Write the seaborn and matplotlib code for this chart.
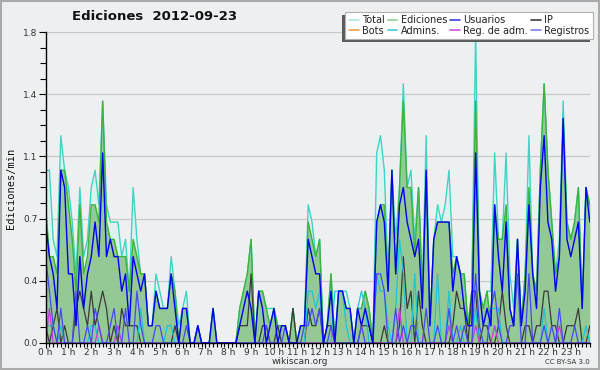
import numpy as np
import pandas as pd
import matplotlib
matplotlib.use("Agg")
import matplotlib.pyplot as plt
from matplotlib.patches import Rectangle
import seaborn as sns

# ---- data: edits per minute, 10-minute bins (6 per hour) ----
hours = [f"{h} h" for h in range(24)]

total = [1.0,1.0,0.6,0.5,1.2,1.0, 0.9,0.7,0.4,0.9,0.5,0.6, 0.9,1.0,0.8,1.4,0.8,0.7,
         0.7,0.7,0.5,0.6,0.3,0.9, 0.6,0.4,0.4,0.1,0.1,0.4, 0.3,0.2,0.2,0.5,0.3,0.1,
         0.2,0.3,0.0,0.0,0.1,0.0, 0.0,0.0,0.2,0.0,0.0,0.0, 0.0,0.0,0.0,0.2,0.3,0.4,
         0.6,0.0,0.3,0.3,0.2,0.2, 0.2,0.1,0.1,0.1,0.0,0.2, 0.0,0.1,0.1,0.8,0.7,0.5,
         0.6,0.0,0.1,0.4,0.0,0.3, 0.3,0.3,0.2,0.0,0.2,0.2, 0.3,0.2,0.0,1.1,1.2,1.0,
         0.4,1.0,0.6,0.9,1.5,0.9, 1.0,0.6,0.9,0.3,1.2,0.1, 0.6,0.8,0.7,0.8,1.0,0.5,
         0.5,0.4,0.4,0.1,0.3,1.8, 0.3,0.2,0.3,0.3,1.1,0.6, 0.6,1.1,0.4,0.2,0.6,0.1,
         0.4,1.2,0.4,0.3,1.0,1.5, 1.0,0.7,0.4,0.6,1.4,0.7, 0.6,0.7,0.9,0.2,0.9,0.8]

ediciones = [0.8,0.5,0.5,0.4,1.0,1.0, 0.8,0.6,0.3,0.8,0.4,0.5, 0.8,0.8,0.7,1.4,0.7,0.6,
             0.6,0.5,0.5,0.5,0.3,0.6, 0.5,0.4,0.4,0.1,0.1,0.3, 0.2,0.2,0.2,0.4,0.3,0.0,
             0.2,0.2,0.0,0.0,0.1,0.0, 0.0,0.0,0.2,0.0,0.0,0.0, 0.0,0.0,0.0,0.2,0.3,0.4,
             0.6,0.0,0.3,0.3,0.2,0.1, 0.2,0.1,0.1,0.1,0.0,0.2, 0.0,0.1,0.1,0.7,0.6,0.5,
             0.6,0.0,0.1,0.4,0.0,0.3, 0.3,0.2,0.2,0.0,0.2,0.2, 0.3,0.2,0.0,0.7,0.8,0.8,
             0.3,1.0,0.4,0.9,1.4,0.9, 0.9,0.5,0.9,0.3,1.0,0.1, 0.6,0.7,0.7,0.7,0.7,0.4,
             0.5,0.4,0.4,0.1,0.3,1.4, 0.3,0.2,0.3,0.1,0.8,0.6, 0.6,0.8,0.2,0.1,0.6,0.1,
             0.4,0.9,0.4,0.3,1.0,1.5, 1.0,0.7,0.4,0.5,1.3,0.7, 0.6,0.7,0.9,0.2,0.9,0.8]

usuarios = [0.7,0.5,0.4,0.2,1.0,0.9, 0.4,0.4,0.1,0.5,0.2,0.4, 0.5,0.7,0.5,1.1,0.5,0.6,
            0.5,0.5,0.3,0.4,0.1,0.5, 0.4,0.3,0.4,0.1,0.1,0.3, 0.2,0.2,0.2,0.4,0.2,0.0,
            0.2,0.2,0.0,0.0,0.1,0.0, 0.0,0.0,0.2,0.0,0.0,0.0, 0.0,0.0,0.0,0.1,0.2,0.3,
            0.2,0.0,0.3,0.2,0.0,0.1, 0.2,0.0,0.1,0.1,0.0,0.0, 0.0,0.1,0.1,0.6,0.5,0.4,
            0.4,0.0,0.1,0.3,0.0,0.3, 0.3,0.2,0.2,0.0,0.2,0.1, 0.2,0.1,0.0,0.7,0.8,0.7,
            0.3,1.0,0.4,0.8,0.9,0.7, 0.6,0.5,0.6,0.2,1.0,0.1, 0.6,0.7,0.7,0.7,0.7,0.3,
            0.5,0.4,0.2,0.1,0.1,1.1, 0.3,0.1,0.2,0.1,0.8,0.5, 0.3,0.7,0.2,0.1,0.6,0.1,
            0.3,0.8,0.4,0.2,0.9,1.2, 0.7,0.6,0.3,0.5,1.3,0.6, 0.5,0.6,0.7,0.2,0.9,0.7]

ip = [0.1,0.0,0.1,0.2,0.0,0.1, 0.0,0.0,0.2,0.3,0.2,0.1, 0.3,0.1,0.2,0.3,0.2,0.0,
      0.1,0.0,0.2,0.1,0.1,0.1, 0.1,0.0,0.0,0.0,0.0,0.0, 0.0,0.0,0.0,0.0,0.1,0.0,
      0.0,0.0,0.0,0.0,0.0,0.0, 0.0,0.0,0.0,0.0,0.0,0.0, 0.0,0.0,0.0,0.1,0.1,0.1,
      0.4,0.0,0.0,0.1,0.1,0.0, 0.0,0.1,0.0,0.0,0.0,0.2, 0.0,0.0,0.0,0.2,0.1,0.1,
      0.2,0.0,0.1,0.1,0.0,0.0, 0.0,0.0,0.0,0.0,0.0,0.1, 0.1,0.1,0.0,0.0,0.0,0.1,
      0.0,0.0,0.0,0.1,0.5,0.2, 0.3,0.0,0.3,0.1,0.0,0.0, 0.0,0.0,0.0,0.0,0.0,0.1,
      0.3,0.2,0.2,0.0,0.3,0.3, 0.0,0.1,0.1,0.0,0.0,0.1, 0.3,0.1,0.0,0.0,0.0,0.0,
      0.1,0.1,0.0,0.1,0.1,0.3, 0.3,0.1,0.1,0.0,0.0,0.1, 0.1,0.1,0.2,0.0,0.0,0.1]

bots = [0.0] * 144

admins = [0.1,0.1,0.1,0.0,0.1,0.0, 0.0,0.0,0.0,0.0,0.0,0.0, 0.1,0.1,0.0,0.0,0.0,0.0,
          0.0,0.0,0.0,0.0,0.0,0.0, 0.0,0.2,0.0,0.0,0.0,0.0, 0.0,0.0,0.1,0.1,0.0,0.0,
          0.0,0.0,0.0,0.0,0.0,0.0, 0.0,0.0,0.0,0.0,0.0,0.0, 0.0,0.0,0.0,0.0,0.0,0.0,
          0.0,0.0,0.0,0.0,0.0,0.0, 0.0,0.0,0.0,0.0,0.0,0.0, 0.0,0.0,0.0,0.3,0.3,0.2,
          0.3,0.0,0.0,0.0,0.3,0.3, 0.3,0.1,0.0,0.0,0.2,0.3, 0.2,0.0,0.0,0.4,0.3,0.3,
          0.1,0.0,0.2,0.6,0.4,0.0, 0.0,0.4,0.0,0.0,0.0,0.0, 0.0,0.4,0.0,0.0,0.3,0.0,
          0.0,0.1,0.0,0.0,0.0,0.2, 0.0,0.0,0.0,0.2,0.2,0.2, 0.0,0.0,0.0,0.0,0.0,0.0,
          0.0,0.0,0.0,0.0,0.0,0.2, 0.0,0.0,0.0,0.0,0.0,0.0, 0.0,0.0,0.0,0.0,0.1,0.0]

reg_adm = [0.0,0.2,0.0,0.0,0.0,0.0, 0.0,0.0,0.0,0.0,0.0,0.0, 0.0,0.0,0.1,0.0,0.0,0.0,
           0.0,0.1,0.0,0.0,0.0,0.0, 0.0,0.0,0.0,0.0,0.0,0.0, 0.0,0.0,0.0,0.0,0.0,0.0,
           0.0,0.0,0.0,0.0,0.0,0.0, 0.0,0.0,0.0,0.0,0.0,0.0, 0.0,0.0,0.0,0.0,0.0,0.0,
           0.0,0.0,0.0,0.0,0.0,0.0, 0.0,0.0,0.0,0.0,0.0,0.0, 0.0,0.0,0.0,0.0,0.0,0.0,
           0.0,0.0,0.0,0.0,0.0,0.0, 0.0,0.0,0.0,0.0,0.0,0.0, 0.0,0.0,0.0,0.0,0.0,0.0,
           0.0,0.0,0.0,0.2,0.0,0.0, 0.0,0.0,0.0,0.0,0.0,0.0, 0.0,0.0,0.0,0.0,0.1,0.0,
           0.0,0.0,0.0,0.0,0.0,0.1, 0.0,0.0,0.0,0.0,0.1,0.0, 0.0,0.0,0.0,0.0,0.0,0.0,
           0.0,0.0,0.0,0.0,0.0,0.0, 0.0,0.0,0.0,0.1,0.0,0.0, 0.0,0.0,0.0,0.0,0.0,0.0]

registros = [0.5,0.3,0.1,0.0,0.2,0.0, 0.0,0.0,0.3,0.0,0.0,0.1, 0.0,0.2,0.1,0.0,0.0,0.1,
             0.2,0.0,0.0,0.2,0.0,0.0, 0.3,0.1,0.0,0.0,0.0,0.1, 0.1,0.0,0.0,0.0,0.0,0.0,
             0.0,0.1,0.0,0.0,0.1,0.0, 0.0,0.0,0.0,0.0,0.0,0.0, 0.0,0.0,0.0,0.0,0.0,0.0,
             0.0,0.0,0.0,0.0,0.1,0.0, 0.0,0.0,0.0,0.1,0.0,0.0, 0.0,0.0,0.1,0.1,0.2,0.1,
             0.2,0.0,0.0,0.1,0.0,0.0, 0.0,0.0,0.0,0.0,0.0,0.1, 0.0,0.0,0.0,0.4,0.4,0.3,
             0.0,0.0,0.2,0.0,0.1,0.0, 0.1,0.1,0.0,0.0,0.2,0.0, 0.0,0.1,0.0,0.0,0.2,0.0,
             0.1,0.0,0.1,0.0,0.0,0.4, 0.1,0.0,0.0,0.2,0.3,0.1, 0.0,0.0,0.1,0.1,0.4,0.0,
             0.0,0.4,0.0,0.0,0.0,0.1, 0.0,0.1,0.0,0.2,0.0,0.0, 0.0,0.1,0.0,0.0,0.0,0.0]

ytick_vals = [0.0, 0.36, 0.72, 1.08, 1.44, 1.8]
ytick_labels = ["0.0", "0.4", "0.7", "1.1", "1.4", "1.8"]

# ---- build frame ----
slot = np.arange(len(total))
df = pd.DataFrame({"slot": slot, "Total": total, "Ediciones": ediciones,
                   "Usuarios": usuarios, "IP": ip, "Bots": bots, "Admins.": admins,
                   "Reg. de adm.": reg_adm, "Registros": registros})

sns.set_theme(style="white")
plt.rcParams["font.family"] = ["DejaVu Sans"]

W, H = 600.0, 370.0
BG = "#eeeff0"
fig = plt.figure(figsize=(6, 3.7), dpi=100, facecolor=BG)
ax = fig.add_axes([0.076, 0.073, 0.907, 0.8405])
ax.set_facecolor(BG)

# fills
ax.fill_between(df["slot"], df["Total"], color="#dcf2ee", lw=0, zorder=1)
ax.fill_between(df["slot"], df["Ediciones"], color="#94c894", lw=0, zorder=2)

styles = [
    ("Total", "#40d4c4", 1.0, 3),
    ("Ediciones", "#3cb43c", 1.0, 4),
    ("IP", "#3a3a3a", 0.9, 5),
    ("Admins.", "#20c4d8", 0.9, 6),
    ("Reg. de adm.", "#c040e0", 0.9, 7),
    ("Registros", "#4848f4", 0.9, 8),
    ("Usuarios", "#0000f0", 1.0, 9),
]
for name, col, lw, z in styles:
    sns.lineplot(data=df, x="slot", y=name, color=col, lw=lw, ax=ax, zorder=z,
                 legend=False)

ax.set_xlim(0, 143)
ax.set_ylim(0, 1.8)
ax.set_xlabel("")
ax.set_ylabel("")

ax.set_yticks(ytick_vals)
ax.set_yticklabels(ytick_labels)
ax.set_yticks(np.arange(0, 1.8001, 0.09), minor=True)
ax.set_xticks(np.arange(0, 144, 6))
ax.set_xticklabels(hours)
ax.set_xticks(np.arange(0, 144, 1), minor=True)
ax.tick_params(axis="y", which="major", direction="out", length=5, width=0.8,
               color="black", labelsize=6.5, labelcolor="#333333", pad=1, left=True)
ax.tick_params(axis="x", which="major", direction="out", length=3.5, width=0.8,
               color="black", labelsize=6.5, labelcolor="#333333", pad=0.3,
               bottom=True)
ax.tick_params(axis="y", which="minor", direction="out", length=4, width=0.8,
               color="black", left=True)
ax.tick_params(axis="x", which="minor", direction="out", length=3, width=0.8,
               color="black", bottom=True)

ax.grid(axis="y", which="major", color="#c8c8c8", lw=0.9, zorder=0)
ax.set_axisbelow(True)
for s in ["top", "right"]:
    ax.spines[s].set_visible(False)
for s in ["left", "bottom"]:
    ax.spines[s].set_color("black")
    ax.spines[s].set_linewidth(1.0)
    ax.spines[s].set_zorder(20)

# legend box (shadow offset left/down) drawn by hand, legend frameless inside
bx0, by0, bx1, by1 = 345, 12, 593, 39          # pixels from top-left
fig.add_artist(Rectangle(((bx0 - 3) / W, 1 - (by1 + 3) / H), (bx1 - bx0) / W,
                         (by1 - by0) / H, transform=fig.transFigure,
                         facecolor="#5c5c5c", edgecolor="none", zorder=8))
fig.add_artist(Rectangle((bx0 / W, 1 - by1 / H), (bx1 - bx0) / W, (by1 - by0) / H,
                         transform=fig.transFigure, facecolor="white",
                         edgecolor="#b0b0b0", lw=0.8, zorder=9))

leg_items = [("Total", "#a8e8e0"), ("Bots", "#f0a040"),
             ("Ediciones", "#90d090"), ("Admins.", "#40c8d8"),
             ("Usuarios", "#4040e0"), ("Reg. de adm.", "#d050e0"),
             ("IP", "#404040"), ("Registros", "#8080f0")]
handles = [plt.Line2D([], [], color=c, lw=1.2) for _, c in leg_items]
labels = [n for n, _ in leg_items]
leg = fig.legend(handles, labels, ncol=4, loc="center",
                 bbox_to_anchor=((bx0 + bx1) / 2 / W, 1 - (by0 + by1) / 2 / H),
                 fontsize=7.0, frameon=False,
                 handlelength=1.0, handletextpad=0.35, columnspacing=0.3,
                 labelspacing=0.05, borderpad=0.0, borderaxespad=0)
leg.set_zorder(10)
for t in leg.get_texts():
    t.set_color("#222222")

fig.text(155 / W, 1 - 17 / H, "Ediciones  2012-09-23", ha="center", va="center",
         fontsize=9.5, fontweight="bold", color="#111111")
fig.text(11 / W, 1 - 188 / H, "Ediciones/min", rotation=90, ha="center",
         va="center", fontsize=7.5, family=["DejaVu Sans Mono"], color="#111111")
fig.text(300 / W, 1 - 362 / H, "wikiscan.org", ha="center", va="center",
         fontsize=6.5, color="#333333")
fig.text(590 / W, 1 - 362 / H, "CC BY-SA 3.0", ha="right", va="center",
         fontsize=5, color="#333333")

fig.add_artist(Rectangle((0.0015, 0.0025), 0.997, 0.995, transform=fig.transFigure,
                         fill=False, edgecolor="#aaaaaa", lw=1.5, zorder=20))

fig.savefig("out.png", dpi=100, facecolor=BG)
